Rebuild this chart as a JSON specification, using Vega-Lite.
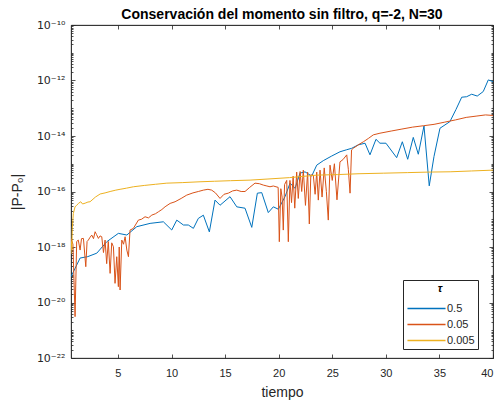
{
  "$schema": "https://vega.github.io/schema/vega-lite/v6.json",
  "width": 422,
  "height": 333,
  "autosize": {"type": "none"},
  "padding": {"left": 71, "top": 25, "right": 7, "bottom": 47},
  "background": "white",
  "config": {
    "font": "Liberation Sans",
    "view": {"stroke": "#262626", "strokeWidth": 0.8}
  },
  "title": {
    "text": "Conservación del momento sin filtro, q=-2, N=30",
    "fontSize": 14,
    "fontWeight": "bold",
    "color": "#000000",
    "font": "Liberation Sans",
    "offset": -3
  },
  "datasets": {
    "d": [
      {"tau": "0.5", "t": 0.62, "v": 8.5e-20},
      {"tau": "0.5", "t": 1.47, "v": 4.0e-19},
      {"tau": "0.5", "t": 2.19, "v": 4.5e-19},
      {"tau": "0.5", "t": 3.03, "v": 6.0e-19},
      {"tau": "0.5", "t": 3.96, "v": 1.55e-18},
      {"tau": "0.5", "t": 5.04, "v": 3.1e-18},
      {"tau": "0.5", "t": 5.83, "v": 2.7e-18},
      {"tau": "0.5", "t": 6.76, "v": 5.4e-18},
      {"tau": "0.5", "t": 8.0, "v": 7.1e-18},
      {"tau": "0.5", "t": 9.24, "v": 8.1e-18},
      {"tau": "0.5", "t": 10.02, "v": 4.1e-18},
      {"tau": "0.5", "t": 10.49, "v": 9.3e-18},
      {"tau": "0.5", "t": 11.11, "v": 6.2e-18},
      {"tau": "0.5", "t": 11.57, "v": 6.2e-18},
      {"tau": "0.5", "t": 12.04, "v": 4.7e-18},
      {"tau": "0.5", "t": 12.5, "v": 1.07e-17},
      {"tau": "0.5", "t": 12.97, "v": 1.4e-17},
      {"tau": "0.5", "t": 13.53, "v": 3.5e-18},
      {"tau": "0.5", "t": 14.06, "v": 4.9e-17},
      {"tau": "0.5", "t": 14.53, "v": 3.2e-17},
      {"tau": "0.5", "t": 15.46, "v": 6.5e-17},
      {"tau": "0.5", "t": 16.09, "v": 2.8e-17},
      {"tau": "0.5", "t": 16.86, "v": 2.5e-17},
      {"tau": "0.5", "t": 17.49, "v": 5.1e-18},
      {"tau": "0.5", "t": 18.01, "v": 8.7e-17},
      {"tau": "0.5", "t": 18.42, "v": 9.1e-17},
      {"tau": "0.5", "t": 19.03, "v": 1.74e-17},
      {"tau": "0.5", "t": 19.5, "v": 2.8e-17},
      {"tau": "0.5", "t": 19.97, "v": 2.3e-17},
      {"tau": "0.5", "t": 20.59, "v": 6.5e-17},
      {"tau": "0.5", "t": 21.06, "v": 2.0e-16},
      {"tau": "0.5", "t": 21.53, "v": 1.3e-16},
      {"tau": "0.5", "t": 21.99, "v": 4.6e-16},
      {"tau": "0.5", "t": 22.46, "v": 5.1e-16},
      {"tau": "0.5", "t": 23.08, "v": 3.6e-16},
      {"tau": "0.5", "t": 23.55, "v": 8.9e-16},
      {"tau": "0.5", "t": 24.16, "v": 1.29e-15},
      {"tau": "0.5", "t": 24.95, "v": 1.9e-15},
      {"tau": "0.5", "t": 25.72, "v": 2.7e-15},
      {"tau": "0.5", "t": 26.35, "v": 3.2e-15},
      {"tau": "0.5", "t": 26.81, "v": 3.6e-15},
      {"tau": "0.5", "t": 27.43, "v": 4.8e-15},
      {"tau": "0.5", "t": 28.06, "v": 5.5e-15},
      {"tau": "0.5", "t": 28.52, "v": 2.1e-15},
      {"tau": "0.5", "t": 29.08, "v": 7.6e-15},
      {"tau": "0.5", "t": 29.45, "v": 5.5e-15},
      {"tau": "0.5", "t": 30.01, "v": 5.5e-15},
      {"tau": "0.5", "t": 31.01, "v": 1.66e-15},
      {"tau": "0.5", "t": 31.54, "v": 6.2e-15},
      {"tau": "0.5", "t": 32.04, "v": 1.45e-15},
      {"tau": "0.5", "t": 32.56, "v": 8.9e-15},
      {"tau": "0.5", "t": 33.03, "v": 2.2e-15},
      {"tau": "0.5", "t": 33.56, "v": 2.3e-14},
      {"tau": "0.5", "t": 34.05, "v": 1.6e-16},
      {"tau": "0.5", "t": 34.49, "v": 1.8e-15},
      {"tau": "0.5", "t": 35.05, "v": 1.9e-14},
      {"tau": "0.5", "t": 35.98, "v": 3.3e-14},
      {"tau": "0.5", "t": 36.55, "v": 9.1e-14},
      {"tau": "0.5", "t": 37.08, "v": 2.5e-13},
      {"tau": "0.5", "t": 37.54, "v": 2.6e-13},
      {"tau": "0.5", "t": 38.01, "v": 3.2e-13},
      {"tau": "0.5", "t": 38.53, "v": 2.75e-13},
      {"tau": "0.5", "t": 39.09, "v": 4.0e-13},
      {"tau": "0.5", "t": 39.56, "v": 1.05e-12},
      {"tau": "0.5", "t": 40.0, "v": 9.1e-13},

      {"tau": "0.05", "t": 0.62, "v": 2.04e-18},
      {"tau": "0.05", "t": 0.8, "v": 1.26e-18},
      {"tau": "0.05", "t": 1.0, "v": 3.09e-21},
      {"tau": "0.05", "t": 1.15, "v": 1.58e-18},
      {"tau": "0.05", "t": 1.3, "v": 1.78e-18},
      {"tau": "0.05", "t": 1.47, "v": 7.76e-19},
      {"tau": "0.05", "t": 1.6, "v": 2.0e-18},
      {"tau": "0.05", "t": 1.78, "v": 2.04e-18},
      {"tau": "0.05", "t": 2.0, "v": 1.95e-19},
      {"tau": "0.05", "t": 2.12, "v": 1.58e-18},
      {"tau": "0.05", "t": 2.24, "v": 1.78e-18},
      {"tau": "0.05", "t": 2.4, "v": 2.24e-18},
      {"tau": "0.05", "t": 2.56, "v": 2.69e-18},
      {"tau": "0.05", "t": 2.72, "v": 2.0e-18},
      {"tau": "0.05", "t": 2.87, "v": 3.55e-18},
      {"tau": "0.05", "t": 3.0, "v": 2.82e-18},
      {"tau": "0.05", "t": 3.18, "v": 2.04e-18},
      {"tau": "0.05", "t": 3.33, "v": 2.51e-18},
      {"tau": "0.05", "t": 3.49, "v": 2.34e-18},
      {"tau": "0.05", "t": 3.65, "v": 6.31e-19},
      {"tau": "0.05", "t": 3.8, "v": 1.78e-18},
      {"tau": "0.05", "t": 3.95, "v": 2.51e-19},
      {"tau": "0.05", "t": 4.1, "v": 1.58e-18},
      {"tau": "0.05", "t": 4.27, "v": 1.12e-19},
      {"tau": "0.05", "t": 4.42, "v": 1.41e-18},
      {"tau": "0.05", "t": 4.58, "v": 1.02e-18},
      {"tau": "0.05", "t": 4.73, "v": 4.9e-20},
      {"tau": "0.05", "t": 4.89, "v": 4.47e-19},
      {"tau": "0.05", "t": 5.04, "v": 3.72e-20},
      {"tau": "0.05", "t": 5.12, "v": 1.0e-18},
      {"tau": "0.05", "t": 5.2, "v": 2.82e-20},
      {"tau": "0.05", "t": 5.36, "v": 1.78e-18},
      {"tau": "0.05", "t": 5.52, "v": 1.26e-18},
      {"tau": "0.05", "t": 5.67, "v": 2.34e-18},
      {"tau": "0.05", "t": 5.83, "v": 7.76e-19},
      {"tau": "0.05", "t": 5.98, "v": 4.47e-19},
      {"tau": "0.05", "t": 6.13, "v": 4.07e-18},
      {"tau": "0.05", "t": 6.44, "v": 4.68e-18},
      {"tau": "0.05", "t": 6.91, "v": 9.33e-18},
      {"tau": "0.05", "t": 7.2, "v": 1.0e-17},
      {"tau": "0.05", "t": 7.53, "v": 1.23e-17},
      {"tau": "0.05", "t": 7.85, "v": 1.12e-17},
      {"tau": "0.05", "t": 8.16, "v": 1.41e-17},
      {"tau": "0.05", "t": 8.5, "v": 1.58e-17},
      {"tau": "0.05", "t": 8.78, "v": 1.86e-17},
      {"tau": "0.05", "t": 9.1, "v": 2.24e-17},
      {"tau": "0.05", "t": 9.4, "v": 2.82e-17},
      {"tau": "0.05", "t": 9.87, "v": 3.72e-17},
      {"tau": "0.05", "t": 10.33, "v": 4.27e-17},
      {"tau": "0.05", "t": 10.9, "v": 5.62e-17},
      {"tau": "0.05", "t": 11.42, "v": 7.41e-17},
      {"tau": "0.05", "t": 12.0, "v": 8.91e-17},
      {"tau": "0.05", "t": 12.5, "v": 1.0e-16},
      {"tau": "0.05", "t": 12.97, "v": 1.12e-16},
      {"tau": "0.05", "t": 13.4, "v": 1.2e-16},
      {"tau": "0.05", "t": 13.75, "v": 1.12e-16},
      {"tau": "0.05", "t": 14.1, "v": 8.91e-17},
      {"tau": "0.05", "t": 14.53, "v": 5.62e-17},
      {"tau": "0.05", "t": 14.9, "v": 7.94e-17},
      {"tau": "0.05", "t": 15.3, "v": 8.71e-17},
      {"tau": "0.05", "t": 15.7, "v": 1.05e-16},
      {"tau": "0.05", "t": 16.09, "v": 1.12e-16},
      {"tau": "0.05", "t": 16.5, "v": 1.0e-16},
      {"tau": "0.05", "t": 16.86, "v": 1.0e-16},
      {"tau": "0.05", "t": 17.3, "v": 1.41e-16},
      {"tau": "0.05", "t": 17.79, "v": 2.0e-16},
      {"tau": "0.05", "t": 18.2, "v": 1.91e-16},
      {"tau": "0.05", "t": 18.57, "v": 1.7e-16},
      {"tau": "0.05", "t": 18.9, "v": 1.58e-16},
      {"tau": "0.05", "t": 19.19, "v": 1.48e-16},
      {"tau": "0.05", "t": 19.5, "v": 1.58e-16},
      {"tau": "0.05", "t": 19.75, "v": 1.48e-16},
      {"tau": "0.05", "t": 19.95, "v": 1.41e-16},
      {"tau": "0.05", "t": 20.06, "v": 1.55e-18},
      {"tau": "0.05", "t": 20.2, "v": 1.26e-16},
      {"tau": "0.05", "t": 20.32, "v": 6.31e-17},
      {"tau": "0.05", "t": 20.43, "v": 4.07e-18},
      {"tau": "0.05", "t": 20.55, "v": 1.78e-16},
      {"tau": "0.05", "t": 20.75, "v": 2.51e-16},
      {"tau": "0.05", "t": 20.9, "v": 1.55e-18},
      {"tau": "0.05", "t": 21.05, "v": 2.51e-16},
      {"tau": "0.05", "t": 21.2, "v": 3.98e-17},
      {"tau": "0.05", "t": 21.35, "v": 3.55e-16},
      {"tau": "0.05", "t": 21.5, "v": 2.51e-17},
      {"tau": "0.05", "t": 21.68, "v": 5.01e-16},
      {"tau": "0.05", "t": 21.83, "v": 5.62e-17},
      {"tau": "0.05", "t": 22.0, "v": 5.25e-16},
      {"tau": "0.05", "t": 22.15, "v": 1.0e-16},
      {"tau": "0.05", "t": 22.3, "v": 5.89e-16},
      {"tau": "0.05", "t": 22.5, "v": 3.16e-17},
      {"tau": "0.05", "t": 22.7, "v": 5.01e-16},
      {"tau": "0.05", "t": 22.86, "v": 6.76e-18},
      {"tau": "0.05", "t": 23.0, "v": 3.98e-16},
      {"tau": "0.05", "t": 23.23, "v": 3.89e-16},
      {"tau": "0.05", "t": 23.4, "v": 7.94e-17},
      {"tau": "0.05", "t": 23.55, "v": 5.01e-16},
      {"tau": "0.05", "t": 23.7, "v": 4.9e-17},
      {"tau": "0.05", "t": 23.86, "v": 5.89e-16},
      {"tau": "0.05", "t": 24.05, "v": 6.31e-17},
      {"tau": "0.05", "t": 24.25, "v": 7.08e-16},
      {"tau": "0.05", "t": 24.45, "v": 1.0e-16},
      {"tau": "0.05", "t": 24.63, "v": 9.33e-18},
      {"tau": "0.05", "t": 24.79, "v": 8.91e-16},
      {"tau": "0.05", "t": 25.0, "v": 2.51e-16},
      {"tau": "0.05", "t": 25.2, "v": 1.0e-15},
      {"tau": "0.05", "t": 25.44, "v": 5.01e-17},
      {"tau": "0.05", "t": 25.72, "v": 1.17e-15},
      {"tau": "0.05", "t": 26.0, "v": 1.41e-15},
      {"tau": "0.05", "t": 26.35, "v": 2.09e-15},
      {"tau": "0.05", "t": 26.5, "v": 6.31e-16},
      {"tau": "0.05", "t": 26.66, "v": 8.71e-17},
      {"tau": "0.05", "t": 26.8, "v": 3.16e-15},
      {"tau": "0.05", "t": 26.97, "v": 3.63e-15},
      {"tau": "0.05", "t": 27.5, "v": 5.01e-15},
      {"tau": "0.05", "t": 27.9, "v": 6.17e-15},
      {"tau": "0.05", "t": 28.4, "v": 8.32e-15},
      {"tau": "0.05", "t": 28.83, "v": 1.1e-14},
      {"tau": "0.05", "t": 29.45, "v": 1.26e-14},
      {"tau": "0.05", "t": 30.5, "v": 1.51e-14},
      {"tau": "0.05", "t": 31.5, "v": 1.78e-14},
      {"tau": "0.05", "t": 32.5, "v": 2.09e-14},
      {"tau": "0.05", "t": 33.5, "v": 2.34e-14},
      {"tau": "0.05", "t": 34.5, "v": 2.63e-14},
      {"tau": "0.05", "t": 35.5, "v": 3.16e-14},
      {"tau": "0.05", "t": 36.5, "v": 3.8e-14},
      {"tau": "0.05", "t": 37.5, "v": 4.68e-14},
      {"tau": "0.05", "t": 38.5, "v": 5.25e-14},
      {"tau": "0.05", "t": 39.3, "v": 5.75e-14},
      {"tau": "0.05", "t": 40.0, "v": 5.5e-14},

      {"tau": "0.005", "t": 0.62, "v": 5.62e-19},
      {"tau": "0.005", "t": 0.66, "v": 1.58e-18},
      {"tau": "0.005", "t": 0.7, "v": 7.94e-19},
      {"tau": "0.005", "t": 0.74, "v": 4.68e-18},
      {"tau": "0.005", "t": 0.84, "v": 1.62e-17},
      {"tau": "0.005", "t": 1.0, "v": 2.82e-17},
      {"tau": "0.005", "t": 1.15, "v": 3.16e-17},
      {"tau": "0.005", "t": 1.31, "v": 3.72e-17},
      {"tau": "0.005", "t": 1.53, "v": 4.27e-17},
      {"tau": "0.005", "t": 1.7, "v": 3.55e-17},
      {"tau": "0.005", "t": 1.94, "v": 3.8e-17},
      {"tau": "0.005", "t": 2.2, "v": 4.17e-17},
      {"tau": "0.005", "t": 2.4, "v": 4.27e-17},
      {"tau": "0.005", "t": 2.9, "v": 6.31e-17},
      {"tau": "0.005", "t": 3.34, "v": 8.13e-17},
      {"tau": "0.005", "t": 3.8, "v": 8.91e-17},
      {"tau": "0.005", "t": 4.27, "v": 1.0e-16},
      {"tau": "0.005", "t": 4.8, "v": 1.12e-16},
      {"tau": "0.005", "t": 5.2, "v": 1.2e-16},
      {"tau": "0.005", "t": 5.8, "v": 1.32e-16},
      {"tau": "0.005", "t": 6.44, "v": 1.48e-16},
      {"tau": "0.005", "t": 7.5, "v": 1.66e-16},
      {"tau": "0.005", "t": 8.5, "v": 1.82e-16},
      {"tau": "0.005", "t": 9.56, "v": 2.0e-16},
      {"tau": "0.005", "t": 11.0, "v": 2.09e-16},
      {"tau": "0.005", "t": 12.66, "v": 2.24e-16},
      {"tau": "0.005", "t": 14.0, "v": 2.34e-16},
      {"tau": "0.005", "t": 15.5, "v": 2.45e-16},
      {"tau": "0.005", "t": 17.33, "v": 2.57e-16},
      {"tau": "0.005", "t": 19.0, "v": 2.82e-16},
      {"tau": "0.005", "t": 21.0, "v": 3.16e-16},
      {"tau": "0.005", "t": 23.55, "v": 3.89e-16},
      {"tau": "0.005", "t": 25.5, "v": 4.07e-16},
      {"tau": "0.005", "t": 27.5, "v": 4.37e-16},
      {"tau": "0.005", "t": 29.76, "v": 4.57e-16},
      {"tau": "0.005", "t": 32.0, "v": 4.79e-16},
      {"tau": "0.005", "t": 34.0, "v": 5.01e-16},
      {"tau": "0.005", "t": 36.0, "v": 5.13e-16},
      {"tau": "0.005", "t": 38.0, "v": 5.5e-16},
      {"tau": "0.005", "t": 40.0, "v": 5.89e-16}
    ]
  },
  "data": {"name": "d"},
  "resolve": {"axis": {"x": "independent", "y": "independent"}},
  "layer": [
    {
      "mark": {"type": "line", "strokeWidth": 1, "clip": true},
      "encoding": {
        "x": {
          "field": "t", "type": "quantitative",
          "scale": {"domain": [0.62, 40], "nice": false, "zero": false},
          "axis": {
            "orient": "bottom", "values": [5, 10, 15, 20, 25, 30, 35, 40],
            "grid": false, "tickSize": -4, "tickColor": "#262626", "tickWidth": 0.8,
            "domainColor": "#262626", "domainWidth": 0.8,
            "labelFontSize": 11, "labelColor": "#262626", "labelPadding": 13,
            "labelFont": "Liberation Sans",
            "title": "tiempo", "titleFontSize": 14, "titleFontWeight": "normal",
            "titleColor": "#262626", "titlePadding": 7, "titleFont": "Liberation Sans"
          }
        },
        "y": {
          "field": "v", "type": "quantitative",
          "scale": {"type": "log", "domain": [1e-22, 1e-10], "nice": false},
          "axis": {
            "orient": "left",
            "values": [1e-22, 1e-20, 1e-18, 1e-16, 1e-14, 1e-12, 1e-10],
            "labelExpr": "datum.value < 1e-21 ? '10⁻²²' : datum.value < 1e-19 ? '10⁻²⁰' : datum.value < 1e-17 ? '10⁻¹⁸' : datum.value < 1e-15 ? '10⁻¹⁶' : datum.value < 1e-13 ? '10⁻¹⁴' : datum.value < 1e-11 ? '10⁻¹²' : '10⁻¹⁰'",
            "grid": false, "tickSize": -4, "tickColor": "#262626", "tickWidth": 0.8,
            "domainColor": "#262626", "domainWidth": 0.8,
            "labelFontSize": 11, "labelColor": "#262626", "labelPadding": 10,
            "labelFont": "DejaVu Sans",
            "title": "|P-P₀|", "titleFontSize": 14, "titleFontWeight": "normal",
            "titleColor": "#262626", "titlePadding": 12, "titleFont": "Liberation Sans"
          }
        },
        "color": {
          "field": "tau", "type": "nominal",
          "scale": {"domain": ["0.5", "0.05", "0.005"], "range": ["#0072BD", "#D95319", "#EDB120"]},
          "legend": {
            "orient": "none", "legendX": 332, "legendY": 255,
            "title": "τ", "titleFontStyle": "italic", "titleFontWeight": "bold",
            "titleFontSize": 11, "titleAnchor": "middle", "titleColor": "#000000",
            "titlePadding": 9,
            "strokeColor": "#262626", "fillColor": "white", "padding": 3,
            "symbolType": "M-5,0H5", "symbolSize": 58, "symbolStrokeWidth": 1.5,
            "symbolOffset": 15,
            "labelFontSize": 11, "labelOffset": 15, "rowPadding": 4,
            "labelColor": "#262626", "labelFont": "Liberation Sans"
          }
        }
      }
    },
    {
      "mark": {"type": "point", "opacity": 0},
      "encoding": {
        "x": {
          "field": "t", "type": "quantitative",
          "axis": {
            "orient": "top", "values": [5, 10, 15, 20, 25, 30, 35, 40],
            "labels": false, "title": null, "grid": false,
            "tickSize": -4, "tickColor": "#262626", "tickWidth": 0.8,
            "domainColor": "#262626", "domainWidth": 0.8
          }
        },
        "y": {
          "field": "v", "type": "quantitative",
          "axis": {
            "orient": "right",
            "values": [1e-22, 1e-20, 1e-18, 1e-16, 1e-14, 1e-12, 1e-10],
            "labels": false, "title": null, "grid": false,
            "tickSize": -4, "tickColor": "#262626", "tickWidth": 0.8,
            "domainColor": "#262626", "domainWidth": 0.8
          }
        }
      }
    },
    {
      "mark": {"type": "point", "opacity": 0},
      "encoding": {
        "x": {"field": "t", "type": "quantitative", "axis": null},
        "y": {
          "field": "v", "type": "quantitative",
          "axis": {
            "orient": "left",
            "values": [2e-22,3e-22,4e-22,5e-22,6e-22,7e-22,8e-22,9e-22,1e-21,2e-21,3e-21,4e-21,5e-21,6e-21,7e-21,8e-21,9e-21,2e-20,3e-20,4e-20,5e-20,6e-20,7e-20,8e-20,9e-20,1e-19,2e-19,3e-19,4e-19,5e-19,6e-19,7e-19,8e-19,9e-19,2e-18,3e-18,4e-18,5e-18,6e-18,7e-18,8e-18,9e-18,1e-17,2e-17,3e-17,4e-17,5e-17,6e-17,7e-17,8e-17,9e-17,2e-16,3e-16,4e-16,5e-16,6e-16,7e-16,8e-16,9e-16,1e-15,2e-15,3e-15,4e-15,5e-15,6e-15,7e-15,8e-15,9e-15,2e-14,3e-14,4e-14,5e-14,6e-14,7e-14,8e-14,9e-14,1e-13,2e-13,3e-13,4e-13,5e-13,6e-13,7e-13,8e-13,9e-13,2e-12,3e-12,4e-12,5e-12,6e-12,7e-12,8e-12,9e-12,1e-11,2e-11,3e-11,4e-11,5e-11,6e-11,7e-11,8e-11,9e-11],
            "labels": false, "title": null, "grid": false, "domain": false,
            "tickSize": -2, "tickColor": "#262626", "tickWidth": 0.8
          }
        }
      }
    },
    {
      "mark": {"type": "point", "opacity": 0},
      "encoding": {
        "x": {"field": "t", "type": "quantitative", "axis": null},
        "y": {
          "field": "v", "type": "quantitative",
          "axis": {
            "orient": "right",
            "values": [2e-22,3e-22,4e-22,5e-22,6e-22,7e-22,8e-22,9e-22,1e-21,2e-21,3e-21,4e-21,5e-21,6e-21,7e-21,8e-21,9e-21,2e-20,3e-20,4e-20,5e-20,6e-20,7e-20,8e-20,9e-20,1e-19,2e-19,3e-19,4e-19,5e-19,6e-19,7e-19,8e-19,9e-19,2e-18,3e-18,4e-18,5e-18,6e-18,7e-18,8e-18,9e-18,1e-17,2e-17,3e-17,4e-17,5e-17,6e-17,7e-17,8e-17,9e-17,2e-16,3e-16,4e-16,5e-16,6e-16,7e-16,8e-16,9e-16,1e-15,2e-15,3e-15,4e-15,5e-15,6e-15,7e-15,8e-15,9e-15,2e-14,3e-14,4e-14,5e-14,6e-14,7e-14,8e-14,9e-14,1e-13,2e-13,3e-13,4e-13,5e-13,6e-13,7e-13,8e-13,9e-13,2e-12,3e-12,4e-12,5e-12,6e-12,7e-12,8e-12,9e-12,1e-11,2e-11,3e-11,4e-11,5e-11,6e-11,7e-11,8e-11,9e-11],
            "labels": false, "title": null, "grid": false, "domain": false,
            "tickSize": -2, "tickColor": "#262626", "tickWidth": 0.8
          }
        }
      }
    }
  ]
}
